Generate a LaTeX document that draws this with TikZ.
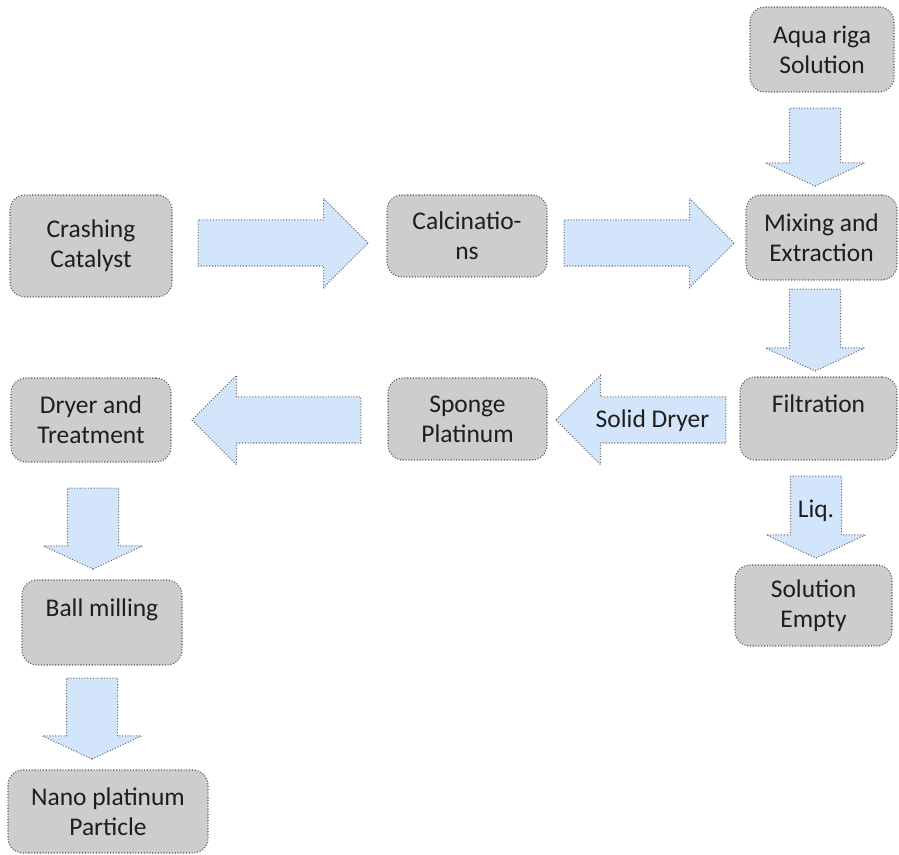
\documentclass[tikz,border=0pt]{standalone}
\usepackage{fontspec}
\setmainfont{Carlito}
\usetikzlibrary{shapes.arrows}

\definecolor{boxfill}{RGB}{205,205,205}
\definecolor{boxline}{RGB}{85,85,85}
\definecolor{arrowfill}{RGB}{211,229,250}
\definecolor{arrowline}{RGB}{110,110,110}
\definecolor{inktext}{RGB}{30,30,30}

\tikzset{
  stepbox/.style={draw=boxline, densely dotted, line width=0.6pt, fill=boxfill,
    rounded corners=0.3cm, align=center, inner sep=0pt, text=inktext,
    font=\fontsize{14.5}{17}\selectfont},
  harrow/.style={single arrow, draw=arrowline, densely dotted, line width=0.6pt,
    fill=arrowfill, inner sep=0pt, text height=0.6cm, text depth=0.3cm,
    single arrow head extend=0.43cm, single arrow tip angle=90,
    minimum height=3.4cm, text=inktext, font=\fontsize{14.5}{17}\selectfont},
  varrow/.style={single arrow, shape border rotate=270, draw=arrowline,
    densely dotted, line width=0.6pt, fill=arrowfill, inner sep=0pt,
    text width=1cm, align=center, single arrow head extend=0.48cm,
    single arrow tip angle=130, minimum height=1.62cm, text=inktext,
    font=\fontsize{14.5}{17}\selectfont}
}

\begin{document}
\begin{tikzpicture}
	\useasboundingbox (0,0) rectangle (17.98,-17.10);

	% process steps
	\node[stepbox, minimum width=2.88cm, minimum height=1.70cm] (aqua) at (16.44,-0.99) {Aqua riga\\Solution};
	\node[stepbox, minimum width=3.24cm, minimum height=2.04cm] (crash) at (1.82,-4.92) {Crashing\\Catalyst};
	\node[stepbox, minimum width=3.20cm, minimum height=1.64cm] (calc) at (9.34,-4.72) {Calcinatio-\\ns};
	\node[stepbox, minimum width=3.02cm, minimum height=1.70cm] (mix) at (16.43,-4.75) {Mixing and\\Extraction};
	\node[stepbox, minimum width=3.14cm, minimum height=1.66cm] (filt) at (16.37,-8.37) {Filtration\\\mbox{}};
	\node[stepbox, minimum width=3.18cm, minimum height=1.64cm] (sponge) at (9.35,-8.38) {Sponge\\Platinum};
	\node[stepbox, minimum width=3.20cm, minimum height=1.68cm] (dryer) at (1.82,-8.40) {Dryer and\\Treatment};
	\node[stepbox, minimum width=3.20cm, minimum height=1.70cm] (ball) at (2.04,-12.45) {Ball milling\\\mbox{}};
	\node[stepbox, minimum width=3.14cm, minimum height=1.62cm] (empty) at (16.27,-12.11) {Solution\\Empty};
	\node[stepbox, minimum width=4.00cm, minimum height=1.66cm] (nano) at (2.16,-16.23) {Nano platinum\\Particle};

	% block arrows
	\node[harrow, anchor=tail] (a1) at ([xshift=0.50cm,yshift=0.06cm]crash.east) {};
	\node[harrow, anchor=tail] (a2) at ([xshift=0.32cm,yshift=-0.14cm]calc.east) {};
	\node[harrow, shape border rotate=180, anchor=tail] (a3) at ([xshift=-0.26cm,yshift=-0.03cm]filt.west) {Solid Dryer};
	\node[harrow, shape border rotate=180, anchor=tail, minimum height=3.38cm] (a4) at ([xshift=-0.52cm,yshift=-0.02cm]sponge.west) {};
	\node[varrow, anchor=tail, minimum height=1.56cm] (d1) at ([xshift=-0.14cm,yshift=-0.30cm]aqua.south) {};
	\node[varrow, anchor=tail, minimum height=1.64cm] (d2) at ([xshift=-0.13cm,yshift=-0.16cm]mix.south) {};
	\node[varrow, anchor=tail, minimum height=1.64cm] (d3) at ([xshift=-0.05cm,yshift=-0.30cm]filt.south) {Liq.};
	\node[varrow, anchor=tail] (d4) at ([xshift=0.04cm,yshift=-0.50cm]dryer.south) {};
	\node[varrow, anchor=tail] (d5) at ([xshift=-0.20cm,yshift=-0.24cm]ball.south) {};
\end{tikzpicture}
\end{document}
